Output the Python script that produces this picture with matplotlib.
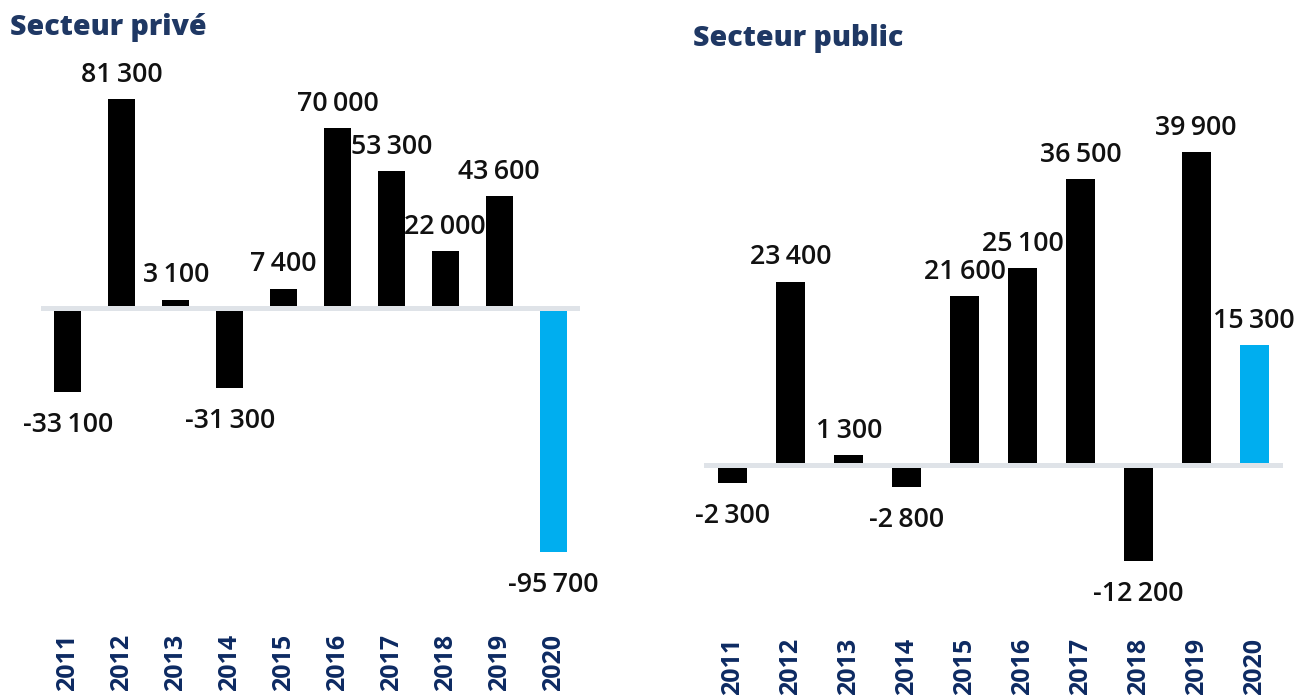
import matplotlib
matplotlib.use("Agg")
import matplotlib.pyplot as plt
from matplotlib.transforms import blended_transform_factory

years = ["2011", "2012", "2013", "2014", "2015", "2016", "2017", "2018", "2019", "2020"]
prive = [-33100, 81300, 3100, -31300, 7400, 70000, 53300, 22000, 43600, -95700]
public = [-2300, 23400, 1300, -2800, 21600, 25100, 36500, -12200, 39900, 15300]
titles = ["Secteur privé", "Secteur public"]

W, H = 1308, 700
fig = plt.figure(figsize=(W / 100, H / 100), dpi=100)

NAVY_T = "#1f3864"
NAVY_Y = "#0d2a62"
BLACK = "#000000"
BLUE = "#00aeef"
LINE = "#dfe3e8"

num_font = ["Open Sans", "DejaVu Sans"]
title_font = ["Open Sans", "DejaVu Sans"]


def fmt(v):
    s = f"{abs(v):,}".replace(",", "\u2009")
    return ("-" if v < 0 else "") + s


def panel(values, x0, x1, zero_px, scale, top_px, bot_px, title, tx, ty, year_base):
    ax = fig.add_axes([x0 / W, 1 - bot_px / H, (x1 - x0) / W, (bot_px - top_px) / H])
    ax.set_xlim(-0.5, len(years) - 0.5)
    ax.set_ylim(-(bot_px - zero_px) / scale, (zero_px - top_px) / scale)
    ax.axis("off")
    colors = [BLACK] * (len(values) - 1) + [BLUE]
    xs = list(range(len(years)))
    ax.bar(xs, values, width=0.5, color=colors, zorder=2)
    ax.axhline(0, color=LINE, lw=3.6, zorder=3)
    for x, v in zip(xs, values):
        off = 12.3 if v >= 0 else -28.8
        ax.annotate(fmt(v), (x, v), xytext=(0, off), textcoords="offset points",
                    ha="center", va="baseline", fontsize=19.3, fontweight="semibold",
                    family=num_font, color="#111111")
    tr = blended_transform_factory(ax.transData, fig.transFigure)
    for x, y in zip(xs, years):
        ax.text(x, 1 - year_base / H, y, transform=tr, rotation=90, ha="center", va="bottom",
                fontsize=18, fontweight="bold", family=num_font, color=NAVY_Y)
    fig.text(tx / W, 1 - ty / H, title, ha="left", va="baseline", fontsize=20.5,
             fontweight="heavy", family=title_font, color=NAVY_T)
    return ax


panel(prive, 41, 580, 307.5, 0.00256, 50, 620, titles[0], 10, 35, 691)
panel(public, 704, 1283, 465, 0.00784, 50, 620, titles[1], 693, 46, 695)

fig.savefig("out.png", dpi=100)
